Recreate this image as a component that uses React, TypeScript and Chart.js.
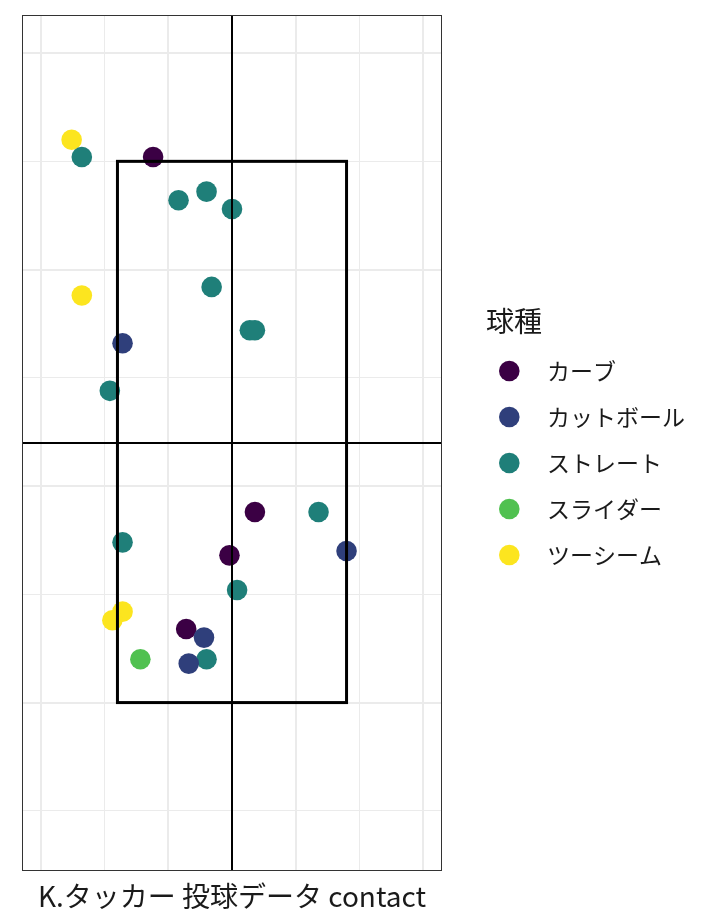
import React, { useEffect, useRef } from "react";
import { Chart, registerables } from "chart.js";

Chart.register(...registerables);

// ---- data ----
const PITCH_TYPES = ["カーブ", "カットボール", "ストレート", "スライダー", "ツーシーム"];
const PITCH_COLORS = ["#3B0044", "#2F3F7B", "#1F7F79", "#50C150", "#FCE51F"];
// lower = drawn on top
const DRAW_ORDER = [1, 0, 2, 3, 4];

const curveX = [-0.62, 0.18, -0.02, -0.36];
const curveY = [3.52, 1.88, 1.68, 1.34];
const cutterX = [-0.86, 0.9, -0.22, -0.34];
const cutterY = [2.66, 1.7, 1.3, 1.18];
const straightX = [-1.18, -0.42, -0.2, 0.0, -0.16, 0.14, 0.18, -0.96, 0.68, -0.86, 0.04, -0.2];
const straightY = [3.52, 3.32, 3.36, 3.28, 2.92, 2.72, 2.72, 2.44, 1.88, 1.74, 1.52, 1.2];
const sliderX = [-0.72];
const sliderY = [1.2];
const twoSeamX = [-1.26, -1.18, -0.86, -0.94];
const twoSeamY = [3.6, 2.88, 1.42, 1.38];

const SERIES_X = [curveX, cutterX, straightX, sliderX, twoSeamX];
const SERIES_Y = [curveY, cutterY, straightY, sliderY, twoSeamY];

const X_GRID = [-1.5, -1, -0.5, 0, 0.5, 1, 1.5];
const X_MAJOR = [-1.5, -0.5, 0.5, 1.5];
const Y_GRID = [0.5, 1, 1.5, 2, 2.5, 3, 3.5, 4];
const Y_MAJOR = [1, 2, 3, 4];
const X_LIMITS = [-1.65, 1.65];
const Y_LIMITS = [0.222, 4.176];
const ZONE_X = [-0.9, 0.9];
const ZONE_Y = [1, 3.5];
const CROSS_X = 0;
const CROSS_Y = 2.2;

const X_TITLE = "K.タッカー 投球データ contact";
const LEGEND_TITLE = "球種";

const FONT = '"Noto Sans CJK JP", "Noto Sans", sans-serif';
const TEXT_COLOR = "#1A1A1A";
const POINT_R = 10.3;

const overlayPlugin = {
  id: "overlay",
  afterDatasetsDraw(chart: any) {
    const { ctx, chartArea: a, scales } = chart;
    const xs = scales.x;
    const ys = scales.y;
    ctx.save();
    ctx.strokeStyle = "#000";
    // crosshair
    ctx.lineWidth = 2;
    const cx = Math.round(xs.getPixelForValue(CROSS_X));
    const cy = Math.round(ys.getPixelForValue(CROSS_Y));
    ctx.beginPath();
    ctx.moveTo(cx, a.top);
    ctx.lineTo(cx, a.bottom);
    ctx.moveTo(a.left, cy);
    ctx.lineTo(a.right, cy);
    ctx.stroke();
    // strike zone
    ctx.lineWidth = 3;
    const l = xs.getPixelForValue(ZONE_X[0]);
    const r = xs.getPixelForValue(ZONE_X[1]);
    const t = ys.getPixelForValue(ZONE_Y[1]);
    const b = ys.getPixelForValue(ZONE_Y[0]);
    ctx.strokeRect(l, t, r - l, b - t);
    // panel border
    ctx.lineWidth = 1;
    ctx.strokeStyle = "#333333";
    ctx.strokeRect(a.left + 0.5, a.top + 0.5, a.width - 1, a.height - 1);
    ctx.restore();
  },
  afterDraw(chart: any) {
    const { ctx, chartArea: a } = chart;
    ctx.save();
    ctx.fillStyle = TEXT_COLOR;
    // x axis title
    ctx.font = `28px ${FONT}`;
    ctx.textAlign = "center";
    ctx.textBaseline = "alphabetic";
    ctx.fillText(X_TITLE, (a.left + a.right) / 2, 907);
    // legend
    ctx.textAlign = "left";
    ctx.textBaseline = "middle";
    ctx.fillText(LEGEND_TITLE, 486, 321.5);
    ctx.font = `23px ${FONT}`;
    chart.data.datasets.forEach((ds: any, i: number) => {
      const y = 371 + i * 46;
      ctx.beginPath();
      ctx.fillStyle = ds.backgroundColor;
      ctx.arc(509.3, y, POINT_R, 0, Math.PI * 2);
      ctx.fill();
      ctx.fillStyle = TEXT_COLOR;
      ctx.fillText(ds.label, 547, y);
    });
    ctx.restore();
  },
};

export default function App() {
  const ref = useRef<HTMLCanvasElement | null>(null);

  useEffect(() => {
    if (!ref.current) return;
    const datasets = PITCH_TYPES.map((name, i) => ({
      label: name,
      data: SERIES_X[i].map((x, j) => ({ x, y: SERIES_Y[i][j] })),
      backgroundColor: PITCH_COLORS[i],
      borderWidth: 0,
      pointRadius: POINT_R,
      pointHoverRadius: POINT_R,
      order: DRAW_ORDER[i],
    }));
    const chart = new Chart(ref.current, {
      type: "scatter",
      data: { datasets },
      options: {
        animation: false,
        responsive: false,
        events: [],
        layout: { autoPadding: false, padding: { left: 22, right: 278, top: 15, bottom: 50 } },
        plugins: { legend: { display: false }, tooltip: { enabled: false } },
        scales: {
          x: {
            type: "linear",
            min: X_LIMITS[0],
            max: X_LIMITS[1],
            afterBuildTicks: (s: any) => {
              s.ticks = X_GRID.map((value) => ({ value }));
            },
            ticks: { display: false },
            border: { display: false },
            grid: {
              color: "#EBEBEB",
              drawTicks: false,
              lineWidth: (c: any) => (c.tick && X_MAJOR.includes(c.tick.value) ? 2 : 1),
            },
          },
          y: {
            type: "linear",
            min: Y_LIMITS[0],
            max: Y_LIMITS[1],
            afterBuildTicks: (s: any) => {
              s.ticks = Y_GRID.map((value) => ({ value }));
            },
            ticks: { display: false },
            border: { display: false },
            grid: {
              color: "#EBEBEB",
              drawTicks: false,
              lineWidth: (c: any) => (c.tick && Y_MAJOR.includes(c.tick.value) ? 2 : 1),
            },
          },
        },
      },
      plugins: [overlayPlugin],
    } as any);
    return () => chart.destroy();
  }, []);

  return (
    <div style={{ position: "absolute", left: 0, top: 0, width: 720, height: 921, background: "#fff" }}>
      <canvas ref={ref} width={720} height={921} style={{ display: "block" }} />
    </div>
  );
}
